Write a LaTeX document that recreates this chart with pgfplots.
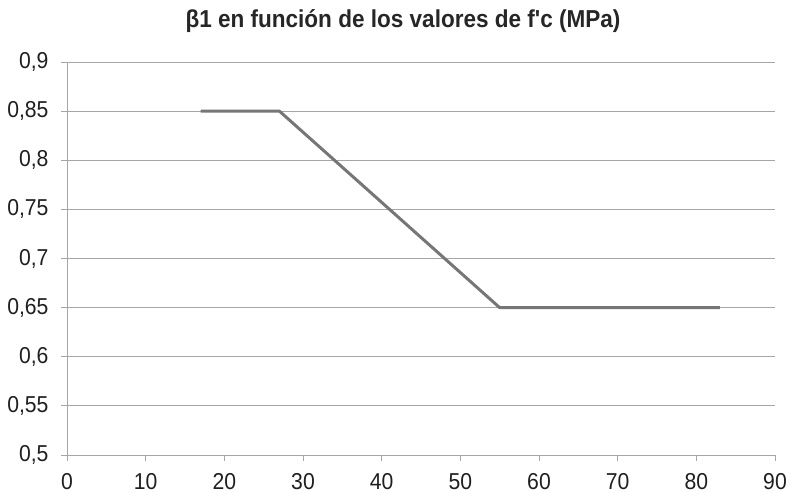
\documentclass[border=0pt]{standalone}
\usepackage{pgfplots}
\pgfplotsset{compat=1.18}
\usepackage{fontspec}
\setmainfont{Liberation Sans}
\newfontfamily\narrowfont[FakeStretch=0.92]{Liberation Sans}
\definecolor{gridc}{HTML}{A6A6A6}
\definecolor{linec}{HTML}{767676}
\begin{document}
\begin{tikzpicture}[x=1bp,y=1bp]
\useasboundingbox (0,0) rectangle (794,493);
\begin{axis}[
  at={(67bp,38bp)}, anchor=south west,
  width=708bp, height=393bp, scale only axis,
  xmin=0, xmax=90, ymin=0.5, ymax=0.9,
  xtick={0,10,...,90},
  ytick={0.5,0.55,0.6,0.65,0.7,0.75,0.8,0.85,0.9},
  /pgf/number format/assume math mode=true,
  /pgf/number format/use comma,
  yticklabel style={/pgf/number format/fixed, /pgf/number format/precision=2, xshift=-9bp},
  tick label style={font=\narrowfont\fontsize{23bp}{25bp}\selectfont, color=black!88},
  ymajorgrids, major grid style={gridc, line width=0.9bp},
  axis x line*=bottom, axis y line*=left,
  axis line style={gridc, line width=0.9bp},
  tick style={gridc, line width=0.9bp},
  tick align=outside, major tick length=6bp,
  xticklabel style={yshift=-9bp},
  title={\bfseries β1 en función de los valores de f'c (MPa)},
  title style={font=\narrowfont\fontsize{24.5bp}{27bp}\selectfont, yshift=20bp, xshift=-18bp, color=black!85},
]
\addplot[linec, line width=3bp, line join=round] coordinates {(17,0.85) (27,0.85) (55,0.65) (83,0.65)};
\end{axis}
\end{tikzpicture}
\end{document}
